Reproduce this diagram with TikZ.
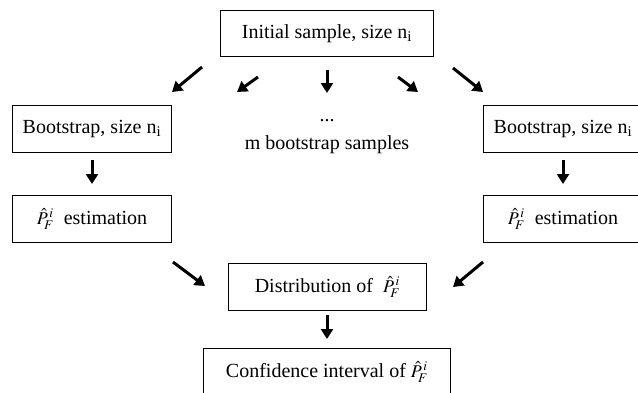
\documentclass[tikz,border=0pt]{standalone}
\usepackage{mathptmx}
\usepackage{fontspec}
\setmainfont{Liberation Serif}
\usetikzlibrary{arrows.meta}
\newcommand{\PFi}{{\fontsize{18}{20}\selectfont$\hat{P}_{\!F}^{\,i}$}}
\begin{document}
\begin{tikzpicture}[x=1pt,y=-1pt,
  box/.style={draw,line width=0.9pt,inner sep=0pt,anchor=north west,font=\fontsize{20}{23}\selectfont},
  lbl/.style={inner sep=0pt,font=\fontsize{20}{23}\selectfont},
  arr/.style={line width=3pt,-{Triangle[length=10pt,width=12pt]}}]
\useasboundingbox (0,0) rectangle (638,392);
\node[box,minimum width=213pt,minimum height=46pt] (init) at (220,10) {Initial sample, size n\textsubscript{i}};
\node[box,minimum width=159pt,minimum height=47pt] (bl) at (12,105) {Bootstrap, size n\textsubscript{i}};
\node[box,minimum width=159pt,minimum height=47pt] (br) at (483,105) {Bootstrap, size n\textsubscript{i}};
\node[box,minimum width=159pt,minimum height=47pt] (el) at (12,195) {\PFi\ \ estimation};
\node[box,minimum width=159pt,minimum height=47pt] (er) at (483,195) {\PFi\ \ estimation};
\node[box,minimum width=198pt,minimum height=47pt] (dist) at (228,263) {Distribution of\ \ \PFi};
\node[box,minimum width=247pt,minimum height=47pt] (conf) at (203,348) {Confidence interval of \PFi};
\node[lbl] (dots) at (327,121) {...};
\node[lbl] (msamp) at (327,145) {m bootstrap samples};
% arrow end points
\coordinate (a1s) at (202,67); \coordinate (a1e) at (172,92);
\coordinate (a2s) at (258,77); \coordinate (a2e) at (237,92);
\coordinate (a3s) at (327,70); \coordinate (a3e) at (327,93);
\coordinate (a4s) at (398,77); \coordinate (a4e) at (418,92);
\coordinate (a5s) at (453,68); \coordinate (a5e) at (483,92);
\coordinate (a6s) at (92,160); \coordinate (a6e) at (92,184);
\coordinate (a7s) at (563,160); \coordinate (a7e) at (563,184);
\coordinate (a8s) at (173,262); \coordinate (a8e) at (205,286);
\coordinate (a9s) at (483,262); \coordinate (a9e) at (453,287);
\coordinate (a10s) at (327,315); \coordinate (a10e) at (327,339);
\foreach \i in {1,...,10} {\draw[arr] (a\i s) -- (a\i e);}
\end{tikzpicture}
\end{document}
